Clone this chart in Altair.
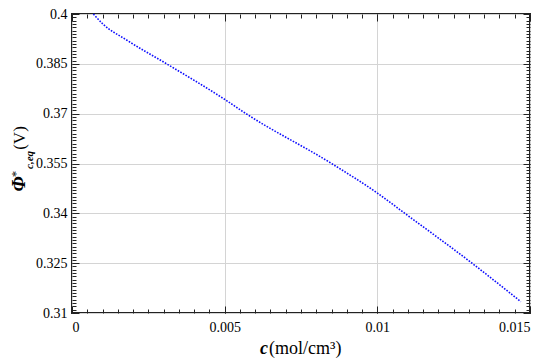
import altair as alt
import pandas as pd

# ---- data ----
c_vals = [0.0007, 0.0010, 0.0018, 0.0031, 0.0050, 0.0057, 0.0085, 0.0100, 0.0109, 0.0131, 0.0147]
phi_vals = [0.4000, 0.3971, 0.3921, 0.3850, 0.3743, 0.3700, 0.3550, 0.3461, 0.3400, 0.3250, 0.3134]

x_major = [0, 0.005, 0.01, 0.015]
y_major = [0.31, 0.325, 0.34, 0.355, 0.37, 0.385, 0.4]
x_minor = [round(i * 0.0005, 4) for i in range(31)]
y_minor = [round(0.31 + i * 0.001, 3) for i in range(91)]

x_title_parts = ["c", "(mol/cm³)"]
y_title_parts = ["Φ", "*", "c,eq", "(V)"]

W, H = 458, 299
FONT = "Liberation Serif, Times New Roman, serif"

df = pd.DataFrame({"c": c_vals, "phi": phi_vals})
xs = alt.Scale(domain=[0, 0.015], nice=False, zero=False)
ys = alt.Scale(domain=[0.31, 0.4], nice=False, zero=False)


def main_axis(orient, values, pad):
    return alt.Axis(orient=orient, values=values, format=".3~f", grid=True,
                    gridColor="#d4d4d4", gridWidth=1, ticks=False, domain=False,
                    labelFont=FONT, labelFontSize=14, labelColor="black",
                    labelPadding=pad, title=None)


def tick_axis(orient, values, size):
    return alt.Axis(orient=orient, values=values, tickSize=size, offset=-size,
                    labels=False, domain=False, grid=False, title=None,
                    ticks=True, tickColor="#222", tickWidth=1)


line = alt.Chart(df).mark_line(
    color="#0f0fff", strokeWidth=1.6, strokeDash=[1.6, 1.4], interpolate="monotone"
).encode(
    x=alt.X("c:Q", scale=xs, axis=main_axis("bottom", x_major, 7)),
    y=alt.Y("phi:Q", scale=ys, axis=main_axis("left", y_major, 5)),
)


def ghost(xo, yo, xv, yv, size):
    return alt.Chart(df).mark_point(opacity=0).encode(
        x=alt.X("c:Q", scale=xs, axis=tick_axis(xo, xv, size)),
        y=alt.Y("phi:Q", scale=ys, axis=tick_axis(yo, yv, size)),
    )


def txt(s, x, y, size, style="normal", weight="normal", angle=0,
        align="center", baseline="alphabetic"):
    return alt.Chart(pd.DataFrame({"t": [s]})).mark_text(
        font=FONT, fontSize=size, fontStyle=style, fontWeight=weight,
        angle=angle, align=align, baseline=baseline, color="black"
    ).encode(text="t:N", x=alt.value(x), y=alt.value(y))


# positions relative to the plot's top-left corner (page 72, 14)
texts = [
    txt(x_title_parts[0], 188, 340, 18, style="italic", weight="bold", align="left"),
    txt(x_title_parts[1], 197, 340, 18, align="left"),
    txt(y_title_parts[0], -47, 170, 19, style="italic", weight="bold", angle=270),
    txt(y_title_parts[1], -52, 160, 13, angle=270),
    txt(y_title_parts[2], -39, 146, 11, style="italic", weight="bold", angle=270),
    txt(y_title_parts[3], -47, 124, 17, angle=270),
]

chart = alt.layer(
    line,
    ghost("bottom", "left", x_major, y_major, 7),
    ghost("bottom", "left", x_minor, y_minor, 4),
    ghost("top", "right", x_major, y_major, 7),
    ghost("top", "right", x_minor, y_minor, 4),
    *texts,
).resolve_scale(x="independent", y="independent").properties(
    width=W, height=H,
    padding={"left": 64, "top": 6, "right": 12, "bottom": 50},
    autosize=alt.AutoSizeParams(type="none"),
).configure_view(stroke="#222", strokeWidth=2)

chart.save("out.html", embed_options={"renderer": "svg", "actions": False})
